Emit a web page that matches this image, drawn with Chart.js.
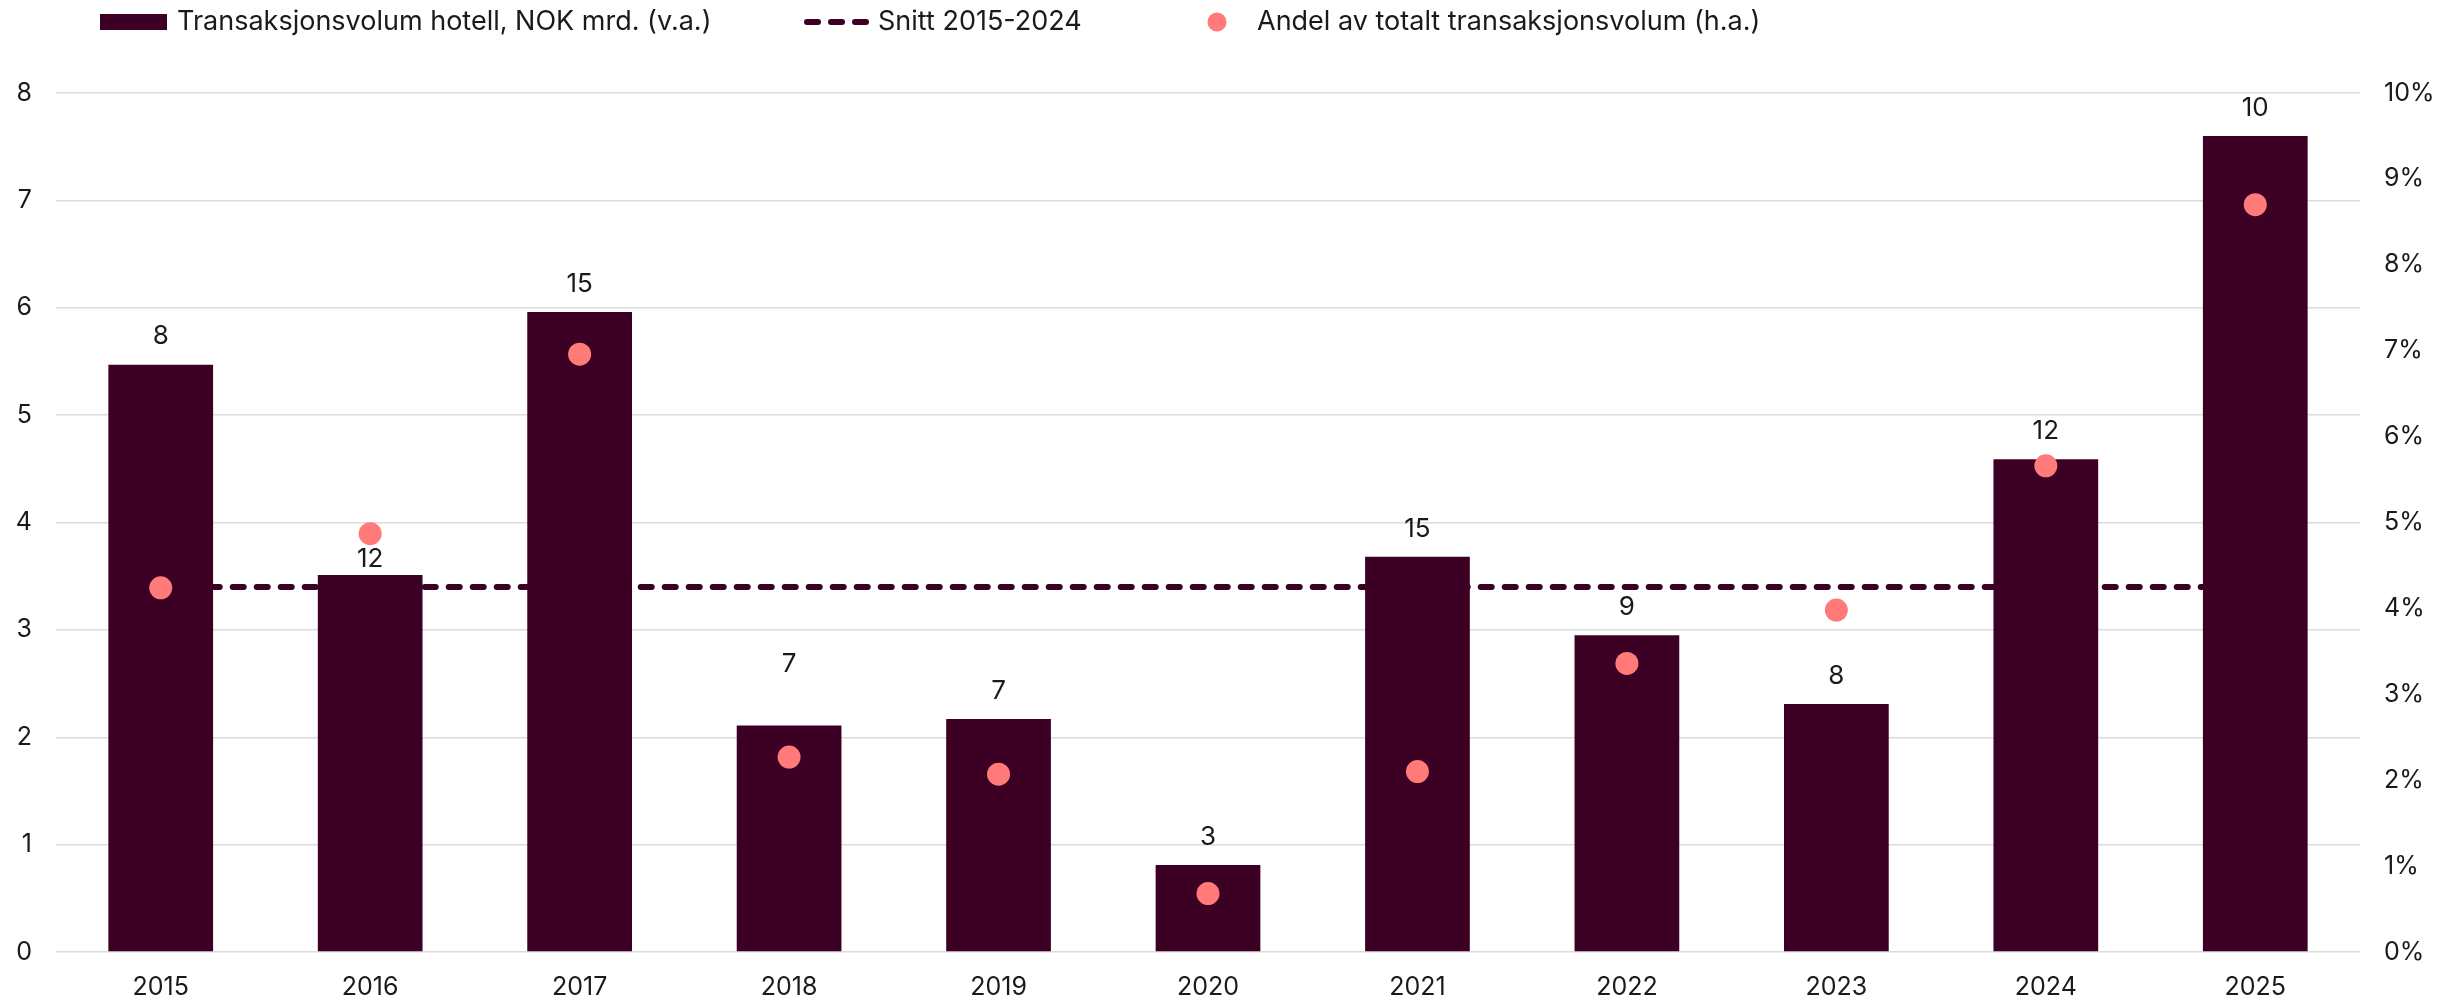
<!DOCTYPE html>
<html>
<head>
<meta charset="utf-8">
<script src="https://cdn.jsdelivr.net/npm/chart.js@4/dist/chart.umd.min.js"></script>
<style>
  html, body { margin: 0; padding: 0; background: #fff; }
  #wrap { width: 2458px; height: 1000px; position: relative; }
</style>
</head>
<body>
<div id="wrap"><canvas id="hotelChart"></canvas></div>
<script>
const years = ['2015', '2016', '2017', '2018', '2019', '2020', '2021', '2022', '2023', '2024', '2025'];
const volume = [5.47, 3.51, 5.96, 2.11, 2.17, 0.81, 3.68, 2.95, 2.31, 4.59, 7.60];   // NOK mrd. (v.a.)
const share = [4.24, 4.87, 6.96, 2.27, 2.07, 0.68, 2.10, 3.36, 3.98, 5.66, 8.70];    // % (h.a.)
const deals = [8, 12, 15, 7, 7, 3, 15, 9, 8, 12, 10];
const avg = 3.4;
const leftTicks = [0, 1, 2, 3, 4, 5, 6, 7, 8];
const rightTicks = [0, 1, 2, 3, 4, 5, 6, 7, 8, 9, 10];

const BAR = '#3c0024';
const DOT = '#ff7a78';
const TXT = '#1a1a1a';
const FONT = 'Inter, "Noto Sans", sans-serif';

// legend swatches
function swatch(w, h, draw) {
    const c = document.createElement('canvas');
    c.width = w; c.height = h;
    draw(c.getContext('2d'));
    return c;
}
const legendItems = [
    { text: 'Transaksjonsvolum hotell, NOK mrd. (v.a.)', x: 100, tx: 177, icon: swatch(67, 16, g => { g.fillStyle = BAR; g.fillRect(0, 0, 67, 16); }) },
    { text: 'Snitt 2015-2024', x: 804, tx: 878, icon: swatch(66, 16, g => {
        g.strokeStyle = BAR; g.lineWidth = 6; g.lineCap = 'round'; g.setLineDash([11, 13]);
        g.beginPath(); g.moveTo(3, 8); g.lineTo(66, 8); g.stroke();
    }) },
    { text: 'Andel av totalt transaksjonsvolum (h.a.)', x: 1207, tx: 1257, icon: swatch(20, 20, g => {
        g.fillStyle = DOT; g.beginPath(); g.arc(10, 10, 9.5, 0, Math.PI * 2); g.fill();
    }) }
];

const legendPlugin = {
    id: 'topLegend',
    afterDraw(chart) {
        const ctx = chart.ctx;
        ctx.save();
        ctx.font = '27px ' + FONT;
        ctx.fillStyle = TXT;
        ctx.textBaseline = 'middle';
        legendItems.forEach(it => {
            ctx.drawImage(it.icon, it.x, 22 - it.icon.height / 2);
            ctx.fillText(it.text, it.tx, 22);
        });
        ctx.restore();
    }
};

const labelNudge = { 1: -12, 3: 33 };
const barLabels = {
    id: 'barLabels',
    afterDatasetsDraw(chart) {
        const ctx = chart.ctx;
        const meta = chart.getDatasetMeta(1);
        ctx.save();
        ctx.font = '26px ' + FONT;
        ctx.fillStyle = TXT;
        ctx.textAlign = 'center';
        ctx.textBaseline = 'middle';
        meta.data.forEach((bar, i) => {
            ctx.fillText(String(deals[i]), bar.x, bar.y - 28 - (labelNudge[i] || 0));
        });
        ctx.restore();
    }
};

const ctx = document.getElementById('hotelChart').getContext('2d');
new Chart(ctx, {
    data: {
        labels: years,
        datasets: [
            {
                type: 'line', label: 'Snitt 2015-2024', data: years.map(() => avg), yAxisID: 'y',
                borderColor: BAR, borderWidth: 6, borderDash: [11, 13], borderCapStyle: 'round',
                pointRadius: 0, order: 3
            },
            {
                type: 'bar', label: 'Transaksjonsvolum hotell, NOK mrd. (v.a.)', data: volume, yAxisID: 'y',
                backgroundColor: BAR, barPercentage: 0.5, categoryPercentage: 1, order: 2
            },
            {
                type: 'line', label: 'Andel av totalt transaksjonsvolum (h.a.)', data: share, yAxisID: 'y1',
                showLine: false, pointRadius: 11.5, pointHoverRadius: 11.5, pointBackgroundColor: DOT,
                pointBorderWidth: 0, order: 1
            }
        ]
    },
    options: {
        responsive: true,
        maintainAspectRatio: false,
        animation: false,
        layout: { padding: { top: 93, bottom: 0, left: 0, right: 0 } },
        plugins: { legend: { display: false }, tooltip: { enabled: false } },
        scales: {
            x: {
                grid: { display: false },
                border: { display: false },
                ticks: { color: TXT, font: { family: FONT, size: 25 }, padding: 12 },
                afterFit: s => { s.height = 48; }
            },
            y: {
                position: 'left', min: 0, max: 8,
                afterBuildTicks: s => { s.ticks = leftTicks.map(v => ({ value: v })); },
                grid: { color: '#dcdcdc', lineWidth: 1.5, drawTicks: false },
                border: { display: false },
                ticks: { color: TXT, font: { family: FONT, size: 25 }, padding: 24 },
                afterFit: s => { s.width = 56; }
            },
            y1: {
                position: 'right', min: 0, max: 10,
                afterBuildTicks: s => { s.ticks = rightTicks.map(v => ({ value: v })); },
                grid: { display: false, drawTicks: false },
                border: { display: false },
                ticks: { color: TXT, font: { family: FONT, size: 25 }, padding: 24, callback: v => v + '%' },
                afterFit: s => { s.width = 98; }
            }
        }
    },
    plugins: [legendPlugin, barLabels]
});
</script>
</body>
</html>
